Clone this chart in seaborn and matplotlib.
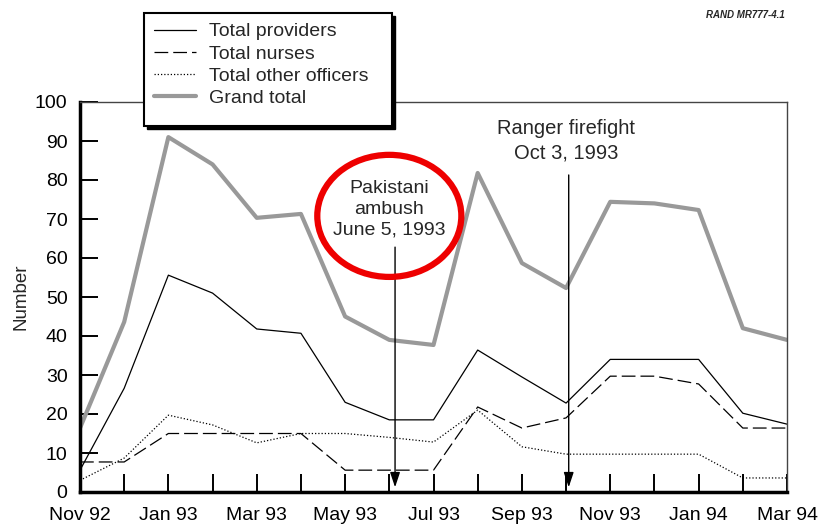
import matplotlib
matplotlib.use("Agg")
import matplotlib.pyplot as plt
from matplotlib.patches import Ellipse, Rectangle
import seaborn as sns

months = ["Nov 92", "Dec 92", "Jan 93", "Feb 93", "Mar 93", "Apr 93", "May 93",
          "Jun 93", "Jul 93", "Aug 93", "Sep 93", "Oct 93", "Nov 93", "Dec 93",
          "Jan 94", "Feb 94", "Mar 94"]

total_providers = [5.6, 26.6, 55.6, 51, 41.8, 40.7, 23, 18.5, 18.5, 36.4, 29.5,
                   22.8, 34, 34, 34, 20.2, 17.4]
total_nurses = [7.7, 7.7, 15, 15, 15, 15, 5.6, 5.6, 5.6, 21.8, 16.4, 19,
                29.7, 29.7, 27.7, 16.4, 16.4]
total_other = [3, 8.7, 19.7, 17.2, 12.6, 15, 15, 14, 12.8, 21, 11.6, 9.7,
               9.7, 9.7, 9.7, 3.6, 3.6]
grand_total = [16.4, 43.6, 91, 84, 70.3, 71.3, 45, 39, 37.7, 81.8, 58.7, 52.3,
               74.4, 74, 72.3, 42, 39]

# events: June 5, 1993 and Oct 3, 1993 as fractional month positions
event_x = [7.13, 11.06]
event_labels = ["Pakistani\nambush\nJune 5, 1993", "Ranger firefight\nOct 3, 1993"]

sns.set_style("ticks")
plt.rcParams['font.family'] = ['Liberation Sans', 'DejaVu Sans']

W, H = 822, 527
fig = plt.figure(figsize=(W / 100, H / 100), dpi=100)
ax = fig.add_axes([80 / W, 1 - 492 / H, 707 / W, 390 / H])

x = list(range(len(months)))
sns.lineplot(x=x, y=total_providers, ax=ax, color="black", lw=0.9,
             label="Total providers")
sns.lineplot(x=x, y=total_nurses, ax=ax, color="black", lw=0.9,
             linestyle=(0, (11, 4)), label="Total nurses")
sns.lineplot(x=x, y=total_other, ax=ax, color="black", lw=0.9,
             linestyle=(0, (1, 1.6)), label="Total other officers")
sns.lineplot(x=x, y=grand_total, ax=ax, color="#999999", lw=3,
             label="Grand total")

ax.set_xlim(0, 16)
ax.set_ylim(0, 100)
ax.set_xticks(x)
ax.set_xticklabels([m if i % 2 == 0 else "" for i, m in enumerate(months)])
ax.set_yticks(range(0, 101, 10))
ax.tick_params(direction="in", length=13, width=1.4, labelsize=14, colors="black")
ax.tick_params(axis="x", pad=11)
ax.tick_params(axis="y", pad=9)
ax.set_xlabel("")
ax.set_ylabel("Number", fontsize=13.5, labelpad=4)

for side in ["left", "bottom"]:
    ax.spines[side].set_linewidth(2.5)
    ax.spines[side].set_color("black")
for side in ["top", "right"]:
    ax.spines[side].set_linewidth(1)
    ax.spines[side].set_color("#444444")

# event arrows
ax.annotate("", xy=(event_x[0], 0.5), xytext=(event_x[0], 63.5),
            arrowprops=dict(arrowstyle="-|>,head_length=0.9,head_width=0.3",
                            color="black", lw=1))
ax.annotate("", xy=(event_x[1], 0.5), xytext=(event_x[1], 82),
            arrowprops=dict(arrowstyle="-|>,head_length=0.9,head_width=0.3",
                            color="black", lw=1))
ax.text(7.0, 72.5, event_labels[0], ha="center", va="center", fontsize=14,
        linespacing=1.3)
ax.text(11.0, 90.0, event_labels[1], ha="center", va="center", fontsize=14.5,
        linespacing=1.35)
ax.add_patch(Ellipse((7.0, 70.8), 3.26, 31.3, fill=False, edgecolor="#ee0000",
                     lw=4.5, clip_on=False, zorder=5))

# legend box with drop shadow, drawn over the axes
bx0, by0, bx1, by1 = 144, 13, 392, 126
fig.add_artist(Rectangle(((bx0 + 3) / W, 1 - (by1 + 3) / H), (bx1 - bx0) / W,
                         (by1 - by0) / H, transform=fig.transFigure,
                         facecolor="black", edgecolor="black", zorder=3))
fig.add_artist(Rectangle((bx0 / W, 1 - by1 / H), (bx1 - bx0) / W,
                         (by1 - by0) / H, transform=fig.transFigure,
                         facecolor="white", edgecolor="black", lw=1.5, zorder=3.5))

handles, labels = ax.get_legend_handles_labels()
ax.get_legend().remove()
leg = fig.legend(handles, labels, loc="upper left",
                 bbox_to_anchor=(bx0 / W, 1 - by0 / H), borderaxespad=0,
                 fontsize=14, handlelength=2.15, handletextpad=0.67,
                 labelspacing=0.24, borderpad=0.5, frameon=False)
leg.set_zorder(5)

fig.text(0.907, 0.972, "RAND MR777-4.1", ha="center", va="center",
         fontsize=7, fontweight="bold", style="italic")

fig.savefig("out.png", dpi=100)
